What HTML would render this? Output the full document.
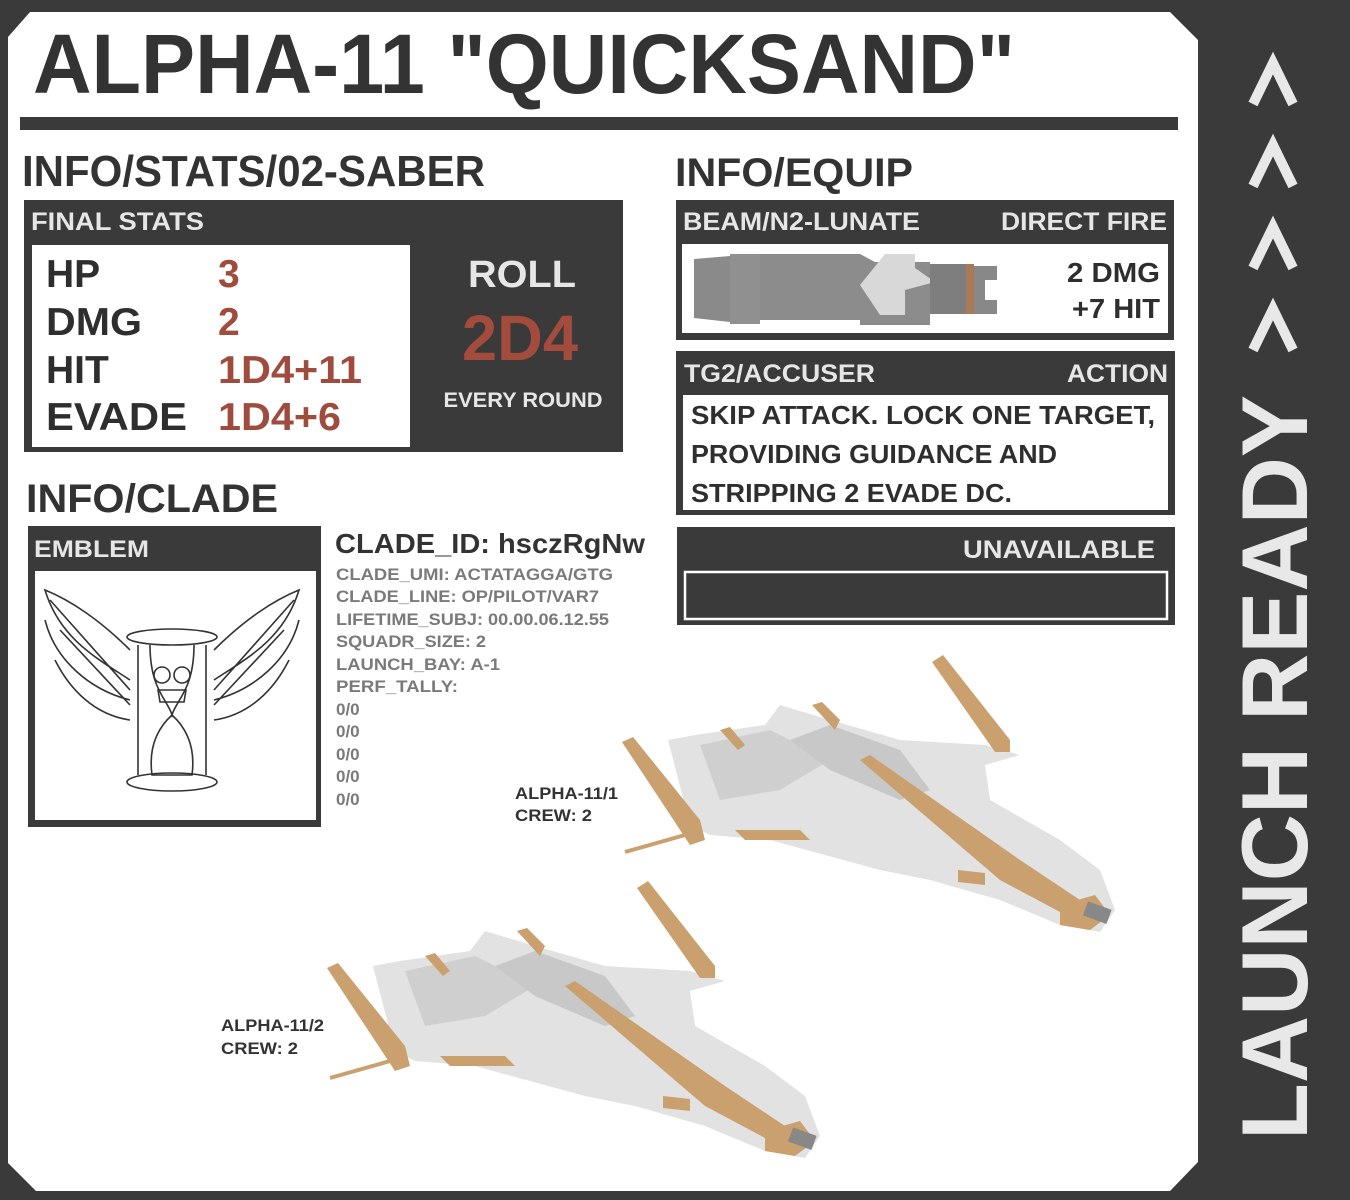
<!DOCTYPE html>
<html><head><meta charset="utf-8"><style>
html,body{margin:0;padding:0;background:#3a3a3a;}
svg{display:block;}
text{font-family:"Liberation Sans",Arial,sans-serif;font-weight:bold;}
</style></head><body>
<svg width="1350" height="1200" viewBox="0 0 1350 1200" xmlns="http://www.w3.org/2000/svg">
<rect width="1350" height="1200" fill="#3a3a3a"/>
<polygon points="8,37 30,12 1170,12 1198,40 1198,1162 1170,1191 36,1191 8,1163" fill="#ffffff"/>

<text x="33" y="93" font-size="84" fill="#333" textLength="982" lengthAdjust="spacingAndGlyphs">ALPHA-11 "QUICKSAND"</text>
<rect x="20" y="117" width="1158" height="13" fill="#3a3a3a"/>

<text x="22" y="186" font-size="44" fill="#333" textLength="463" lengthAdjust="spacingAndGlyphs">INFO/STATS/02-SABER</text>
<rect x="24" y="200" width="599" height="252" fill="#3a3a3a"/>
<text x="31" y="230" font-size="25" fill="#e6e6e6" textLength="173" lengthAdjust="spacingAndGlyphs">FINAL STATS</text>
<rect x="32" y="245" width="378" height="202" fill="#fff"/>
<g font-size="39" fill="#2e2e2e">
<text x="46" y="287">HP</text>
<text x="46" y="335" textLength="96" lengthAdjust="spacingAndGlyphs">DMG</text>
<text x="46" y="383">HIT</text>
<text x="46" y="430" textLength="141" lengthAdjust="spacingAndGlyphs">EVADE</text>
</g>
<g font-size="39" fill="#9f4b3d">
<text x="218" y="287">3</text>
<text x="218" y="335">2</text>
<text x="218" y="383" textLength="144" lengthAdjust="spacingAndGlyphs">1D4+11</text>
<text x="218" y="430" textLength="123" lengthAdjust="spacingAndGlyphs">1D4+6</text>
</g>
<text x="522" y="287" font-size="38" fill="#e6e6e6" text-anchor="middle" textLength="108" lengthAdjust="spacingAndGlyphs">ROLL</text>
<text x="520" y="360" font-size="64" fill="#a34b3c" text-anchor="middle" textLength="116" lengthAdjust="spacingAndGlyphs">2D4</text>
<text x="523" y="407" font-size="21" fill="#e6e6e6" text-anchor="middle" textLength="159" lengthAdjust="spacingAndGlyphs">EVERY ROUND</text>

<text x="675" y="186" font-size="40" fill="#333" textLength="238" lengthAdjust="spacingAndGlyphs">INFO/EQUIP</text>
<rect x="676" y="200" width="498" height="140" fill="#3a3a3a"/>
<text x="683" y="230" font-size="25" fill="#e6e6e6" textLength="237" lengthAdjust="spacingAndGlyphs">BEAM/N2-LUNATE</text>
<text x="1167" y="230" font-size="25" fill="#e6e6e6" text-anchor="end" textLength="166" lengthAdjust="spacingAndGlyphs">DIRECT FIRE</text>
<rect x="682" y="244" width="486" height="89" fill="#fff"/>
<g>
<polygon points="694,259 730,256 730,322 694,318" fill="#8a8a8a"/>
<rect x="730" y="254" width="30" height="70" fill="#909090"/>
<polygon points="760,254 860,254 875,262 930,262 930,325 860,325 860,320 760,320" fill="#8c8c8c"/>
<polygon points="860,285 885,254 915,254 915,268 935,282 905,290 905,315 880,315" fill="#d8d8d8"/>
<rect x="930" y="264" width="38" height="50" fill="#7e7e7e"/>
<rect x="966" y="264" width="8" height="50" fill="#a87a55"/>
<polygon points="974,266 997,266 997,280 985,280 985,300 997,300 997,314 974,314" fill="#888"/>
</g>
<text x="1160" y="282" font-size="28" fill="#2e2e2e" text-anchor="end" textLength="93" lengthAdjust="spacingAndGlyphs">2 DMG</text>
<text x="1160" y="318" font-size="28" fill="#2e2e2e" text-anchor="end" textLength="88" lengthAdjust="spacingAndGlyphs">+7 HIT</text>

<rect x="676" y="351" width="499" height="164" fill="#3a3a3a"/>
<text x="684" y="382" font-size="25" fill="#e6e6e6" textLength="191" lengthAdjust="spacingAndGlyphs">TG2/ACCUSER</text>
<text x="1168" y="382" font-size="25" fill="#e6e6e6" text-anchor="end" textLength="101" lengthAdjust="spacingAndGlyphs">ACTION</text>
<rect x="683" y="395" width="485" height="115" fill="#fff"/>
<g font-size="26" fill="#2e2e2e">
<text x="691" y="424" textLength="464" lengthAdjust="spacingAndGlyphs">SKIP ATTACK. LOCK ONE TARGET,</text>
<text x="691" y="463" textLength="366" lengthAdjust="spacingAndGlyphs">PROVIDING GUIDANCE AND</text>
<text x="691" y="502" textLength="321" lengthAdjust="spacingAndGlyphs">STRIPPING 2 EVADE DC.</text>
</g>

<rect x="677" y="527" width="498" height="98" fill="#3a3a3a"/>
<text x="1155" y="558" font-size="25" fill="#e6e6e6" text-anchor="end" textLength="192" lengthAdjust="spacingAndGlyphs">UNAVAILABLE</text>
<rect x="685" y="572" width="482" height="47" fill="#3a3a3a" stroke="#fff" stroke-width="2.5"/>

<text x="26" y="512" font-size="40" fill="#333" textLength="252" lengthAdjust="spacingAndGlyphs">INFO/CLADE</text>
<rect x="28" y="526" width="293" height="301" fill="#3a3a3a"/>
<text x="34" y="557" font-size="24" fill="#e6e6e6" textLength="115" lengthAdjust="spacingAndGlyphs">EMBLEM</text>
<rect x="35" y="571" width="281" height="249" fill="#fff"/>
<g fill="none" stroke="#333" stroke-width="1.6">
<path d="M130,680 C100,660 60,640 45,590 C70,600 100,620 130,650 M130,700 C90,690 55,660 45,620 M130,720 C95,715 70,690 55,660 M50,600 L130,690 M60,630 L130,705"/>
<path d="M214,680 C244,660 284,640 299,590 C274,600 244,620 214,650 M214,700 C254,690 289,660 299,620 M214,720 C249,715 274,690 289,660 M294,600 L214,690 M284,630 L214,705"/>
<ellipse cx="172" cy="637" rx="45" ry="8"/>
<ellipse cx="172" cy="782" rx="45" ry="9"/>
<line x1="138" y1="645" x2="138" y2="775"/><line x1="206" y1="645" x2="206" y2="775"/>
<path d="M150,645 C150,690 168,700 172,715 C176,700 194,690 194,645"/>
<path d="M172,715 C150,735 150,760 152,775 L192,775 C194,760 194,735 172,715"/>
<circle cx="162" cy="675" r="8"/><circle cx="182" cy="675" r="8"/>
<path d="M158,690 L186,690 L184,702 L160,702 Z"/>
</g>

<text x="335" y="553" font-size="28" fill="#333" textLength="310" lengthAdjust="spacingAndGlyphs">CLADE_ID: hsczRgNw</text>
<g font-size="17" fill="#7a7a7a">
<text x="336" y="580" textLength="277" lengthAdjust="spacingAndGlyphs">CLADE_UMI: ACTATAGGA/GTG</text>
<text x="336" y="602" textLength="263" lengthAdjust="spacingAndGlyphs">CLADE_LINE: OP/PILOT/VAR7</text>
<text x="336" y="625" textLength="273" lengthAdjust="spacingAndGlyphs">LIFETIME_SUBJ: 00.00.06.12.55</text>
<text x="336" y="647" textLength="150" lengthAdjust="spacingAndGlyphs">SQUADR_SIZE: 2</text>
<text x="336" y="670" textLength="164" lengthAdjust="spacingAndGlyphs">LAUNCH_BAY: A-1</text>
<text x="336" y="692" textLength="122" lengthAdjust="spacingAndGlyphs">PERF_TALLY:</text>
<text x="336" y="715">0/0</text>
<text x="336" y="737">0/0</text>
<text x="336" y="760">0/0</text>
<text x="336" y="782">0/0</text>
<text x="336" y="805">0/0</text>
</g>
<g font-size="17" fill="#333">
<text x="515" y="799" textLength="103" lengthAdjust="spacingAndGlyphs">ALPHA-11/1</text>
<text x="515" y="821" textLength="77" lengthAdjust="spacingAndGlyphs">CREW: 2</text>
<text x="221" y="1031" textLength="103" lengthAdjust="spacingAndGlyphs">ALPHA-11/2</text>
<text x="221" y="1054" textLength="77" lengthAdjust="spacingAndGlyphs">CREW: 2</text>
</g>

<defs>
<g id="ship">
<polygon points="668,740 695,735 765,725 780,705 830,720 900,740 985,745 1020,755 985,765 990,800 1060,840 1100,870 1115,910 1100,932 1060,925 1000,900 930,880 880,870 770,840 710,835 690,825" fill="#e2e2e2"/>
<polygon points="700,745 770,730 830,760 780,790 720,800" fill="#cfcfcf"/>
<polygon points="790,740 830,725 900,750 930,790 900,800 830,770" fill="#c8c8c8"/>
<polygon points="860,760 870,755 1020,860 1080,900 1085,915 1060,912 1000,880" fill="#c9a06e"/>
<polygon points="1060,905 1095,895 1110,915 1090,930 1060,925" fill="#c9a06e"/>
<polygon points="622,742 633,737 700,820 705,840 690,845" fill="#c9a06e"/>
<polygon points="932,662 943,655 1010,740 1010,752 995,752" fill="#c9a06e"/>
<polygon points="812,705 822,702 840,720 835,730" fill="#c9a06e"/>
<polygon points="720,730 730,727 745,745 738,750" fill="#c9a06e"/>
<polygon points="735,830 800,830 810,840 745,840" fill="#c9a06e"/>
<polygon points="958,870 985,873 985,885 958,882" fill="#c9a06e"/>
<line x1="625" y1="852" x2="685" y2="835" stroke="#c9a06e" stroke-width="4"/>
<rect x="1085" y="905" width="25" height="15" fill="#888" transform="rotate(20 1097 912)"/>
</g>
</defs>
<use href="#ship"/>
<use href="#ship" transform="translate(-295,226)"/>

<g fill="none" stroke="#e8e8e8" stroke-width="10" stroke-linejoin="miter">
<polyline points="1253,104 1273,63 1293,104"/>
<polyline points="1253,186 1273,145 1293,186"/>
<polyline points="1253,268 1273,227 1293,268"/>
<polyline points="1253,350 1273,309 1293,350"/>
</g>
<text transform="translate(1307,1140) rotate(-90)" font-size="94" fill="#e8e8e8" textLength="745" lengthAdjust="spacingAndGlyphs">LAUNCH READY</text>
</svg>
</body></html>
